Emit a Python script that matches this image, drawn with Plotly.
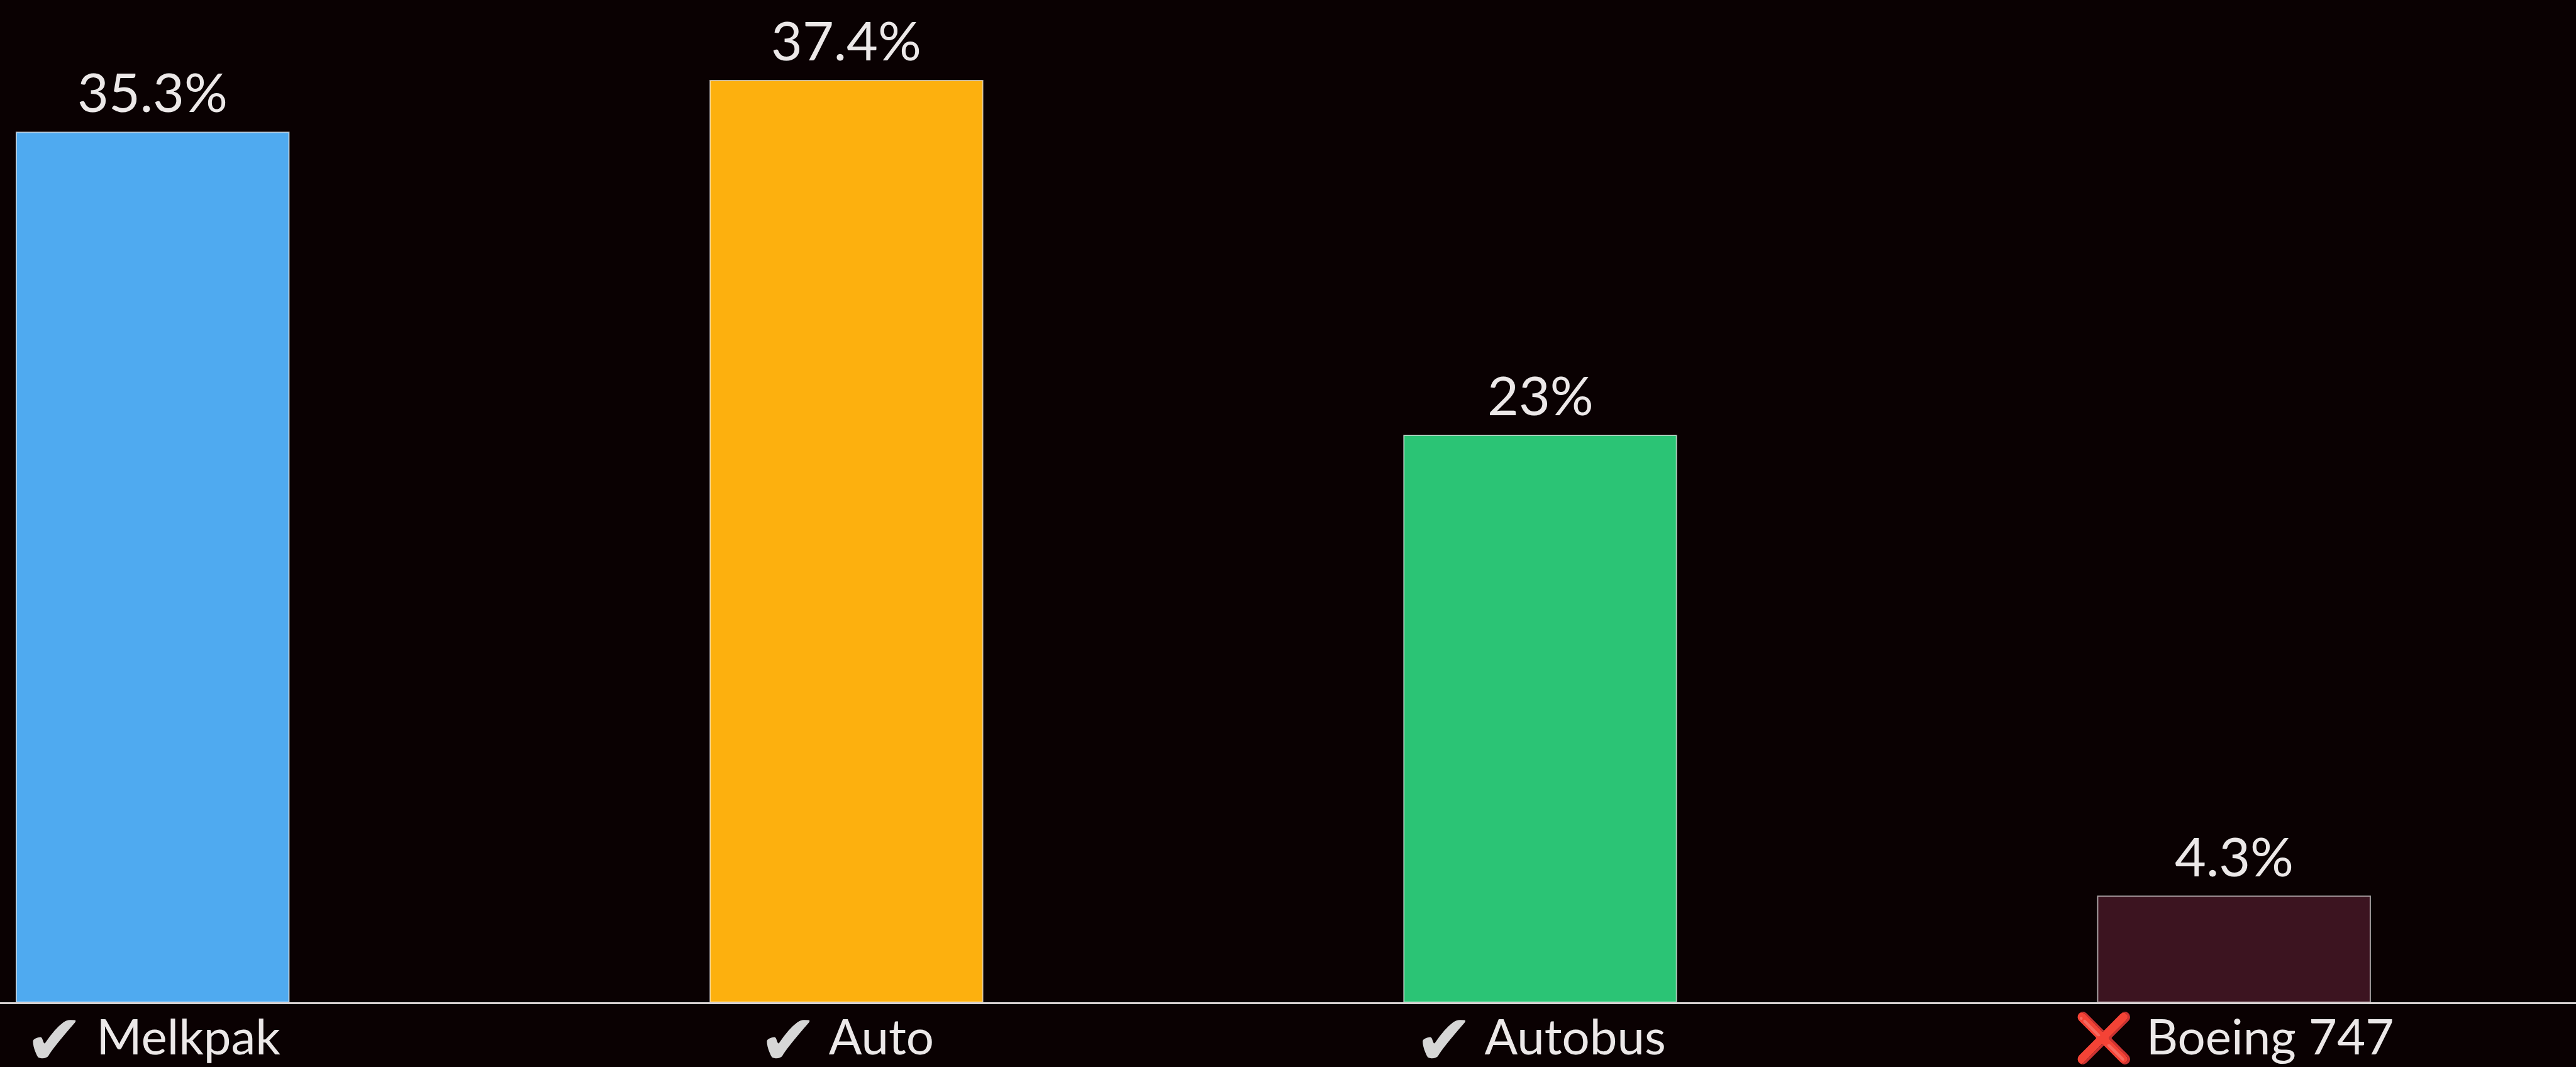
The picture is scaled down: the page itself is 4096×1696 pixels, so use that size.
import plotly.graph_objects as go

# Category labels (with their status mark) and shares in percent
categories = ["Melkpak", "Auto", "Autobus", "Boeing 747"]
marks = ["✔", "✔", "✔", "❌"]
shares = [35.3, 37.4, 23, 4.3]
bar_colors = ["#4FAAF0", "#FDB00E", "#2BC475", "#3C1420"]

BG = "#0A0102"
TEXT = "#ECE8E8"
FONT = "Lato"

tick_text = []
for m, c in zip(marks, categories):
    if m == "❌":
        tick_text.append(f"<span style='color:#E8262C;font-size:76px'>{m}</span> {c}")
    else:
        tick_text.append(
            f"<span style='color:#D6D6D6;font-family:DejaVu Sans;font-size:112px;"
            f"baseline-shift:-16px'>{m}</span> {c}"
        )

x_pos = list(range(len(categories)))

fig = go.Figure()
fig.add_trace(go.Bar(
    x=x_pos,
    y=shares,
    width=0.393,
    marker=dict(color=bar_colors, line=dict(color="rgba(255,255,255,0.6)", width=2)),
    hoverinfo="skip",
))

# value labels above each bar
for xi, v in zip(x_pos, shares):
    fig.add_annotation(
        x=xi, y=v, text=f"{v:g}%", showarrow=False,
        xanchor="center", yanchor="bottom", yshift=12,
        font=dict(family=FONT, size=86, color=TEXT),
    )

fig.update_layout(
    width=4096, height=1696,
    margin=dict(l=0, r=0, t=0, b=103, autoexpand=False),
    paper_bgcolor=BG, plot_bgcolor=BG,
    showlegend=False,
    font=dict(family=FONT, color=TEXT),
    xaxis=dict(
        range=[-0.22, 3.493], automargin=False,
        tickmode="array", tickvals=x_pos, ticktext=tick_text,
        tickfont=dict(family=FONT, size=78, color=TEXT),
        ticklabelstandoff=-14,
        showline=True, linecolor="#D6CFCF", linewidth=3,
        showgrid=False, zeroline=False, ticks="", fixedrange=True,
    ),
    yaxis=dict(
        range=[0, 40.67], visible=False, showgrid=False, zeroline=False,
    ),
)

fig.write_html("out.html")
